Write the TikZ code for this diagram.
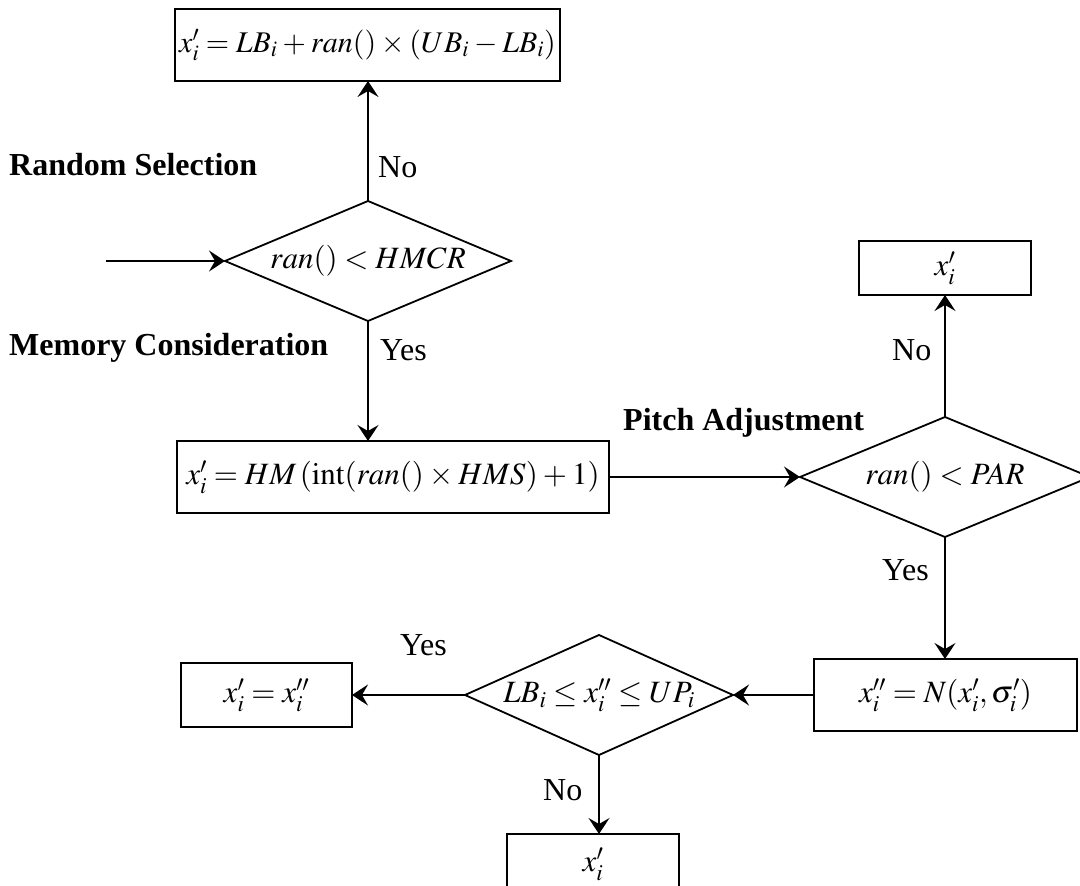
\documentclass[tikz,border=0pt]{standalone}
\usepackage{mathptmx}
\usepackage{fontspec}
\setmainfont{Liberation Serif}
\usetikzlibrary{shapes.geometric,arrows.meta}
\thickmuskip=4mu plus 2mu
\medmuskip=3mu plus 1mu minus 1mu
\begin{document}
\begin{tikzpicture}[x=1pt,y=-1pt,
  font=\fontsize{32}{38}\selectfont,
  mth/.style={font=\fontsize{31}{37}\selectfont},
  box/.style={draw,line width=2.2pt,inner sep=0pt,outer sep=0pt,mth},
  dia/.style={draw,diamond,line width=1.8pt,inner sep=0pt,outer sep=0pt,mth},
  lab/.style={inner sep=0pt,anchor=west},
  bold/.style={inner sep=0pt,anchor=west,font=\fontsize{32}{38}\selectfont\bfseries},
  arr/.style={line width=1.8pt,-{Stealth[length=16pt,width=21pt,inset=6pt]}}]
\useasboundingbox (0,0) rectangle (1080,886);
\clip (0,0) rectangle (1080,886);
% nodes
\node[box,minimum width=385pt,minimum height=72pt,font=\fontsize{30}{36}\selectfont] (tb) at (367.5,45)
  {$x'_i = LB_i + ran()\times(UB_i - LB_i)$};
\node[dia,minimum width=286pt,minimum height=120pt] (d1) at (368,261)
  {\makebox[0pt]{$ran() < HMCR$}};
\coordinate (in) at (106,261);
\node[bold] (rs) at (9,165) {Random Selection};
\node[lab] (no1) at (378,167) {No};
\node[bold] (mc) at (9,348) {Memory Consideration};
\node[lab] (yes1) at (380,350) {Yes};
\node[box,minimum width=432pt,minimum height=72pt] (b2) at (393,477)
  {$x'_i = HM\,(\mathrm{int}(ran()\times HMS)+1)$};
\node[bold] (pa) at (623,423) {Pitch Adjustment};
\node[dia,minimum width=290pt,minimum height=120pt] (d2) at (945,477)
  {\makebox[0pt]{$ran() < PAR$}};
\node[box,minimum width=172pt,minimum height=54pt] (x1) at (945,268) {$x'_i$};
\node[lab] (no2) at (892,350) {No};
\node[lab] (yes2) at (882,570) {Yes};
\node[box,minimum width=263pt,minimum height=72pt] (b4) at (945.5,695)
  {$x''_i = N(x'_i,\sigma'_i)$};
\node[dia,minimum width=268pt,minimum height=120pt] (d3) at (599,695)
  {\makebox[0pt]{$LB_i \le x''_i \le UP_i$}};
\node[box,minimum width=171pt,minimum height=64pt] (b3) at (266.5,695)
  {$x'_i = x''_i$};
\node[lab] (yes3) at (400,645) {Yes};
\node[box,minimum width=172pt,minimum height=60pt] (b5) at (593,864) {$x'_i$};
\node[lab] (no3) at (543,790) {No};
% connectors
\draw[arr] (in) -- (d1.west);
\draw[arr] (d1.north) -- (d1.north |- tb.south);
\draw[arr] (d1.south) -- (d1.south |- b2.north);
\draw[arr] (b2.east) -- (d2.west);
\draw[arr] (d2.north) -- (d2.north |- x1.south);
\draw[arr] (d2.south) -- (d2.south |- b4.north);
\draw[arr] (b4.west) -- (d3.east);
\draw[arr] (d3.west) -- (b3.east);
\draw[arr] (d3.south) -- (d3.south |- b5.north);
\end{tikzpicture}
\end{document}
